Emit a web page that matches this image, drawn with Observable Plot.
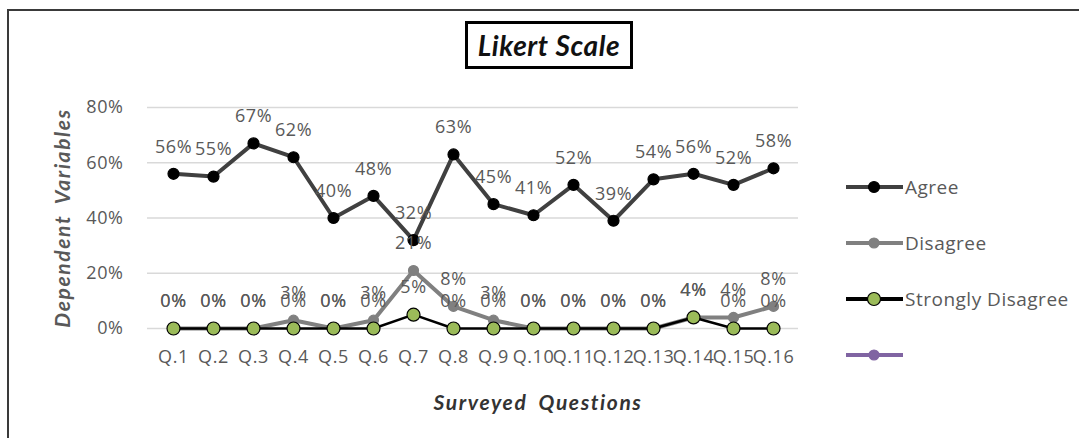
<!DOCTYPE html>
<html>
<head>
<meta charset="utf-8">
<script src="https://cdn.jsdelivr.net/npm/d3@7"></script>
<script src="https://cdn.jsdelivr.net/npm/@observablehq/plot@0.6"></script>
<style>
  html, body { margin: 0; padding: 0; background: #fff; overflow: hidden; }
  #wrap { position: relative; width: 1079px; height: 438px; font-family: "Open Sans", Lato, sans-serif; }
  #border { position: absolute; left: 7px; top: 9px; width: 1200px; height: 600px;
            border-left: 2px solid #3a3a3a; border-top: 2px solid #3a3a3a; box-sizing: border-box; }
  #title { position: absolute; left: 465px; top: 21px; width: 168px; height: 48px; box-sizing: border-box;
           border: 3px solid #000; display: flex; align-items: center; justify-content: center;
           font-family: Lato, sans-serif; font-weight: bold; font-style: italic; font-size: 28px;
           letter-spacing: 0.6px; color: #111; }
  #legend { position: absolute; left: 845px; top: 0; }
  .lg { position: absolute; left: 0; display: flex; align-items: center; white-space: nowrap;
        font-size: 19px; letter-spacing: 0.5px; color: #595959; }
  #chart { position: absolute; left: 0; top: 0; }
  #chart svg text { letter-spacing: 0.6px; }
</style>
</head>
<body>
<div id="wrap">
  <div id="chart"></div>
  <div id="border"></div>
  <div id="title">Likert Scale</div>
  <div id="legend"></div>
</div>
<script>
const questions = ["Q.1","Q.2","Q.3","Q.4","Q.5","Q.6","Q.7","Q.8","Q.9","Q.10","Q.11","Q.12","Q.13","Q.14","Q.15","Q.16"];
const agree = [0.56,0.55,0.67,0.62,0.40,0.48,0.32,0.63,0.45,0.41,0.52,0.39,0.54,0.56,0.52,0.58];
const disagree = [0,0,0,0.03,0,0.03,0.21,0.08,0.03,0,0,0,0,0.04,0.04,0.08];
const stronglyDisagree = [0,0,0,0,0,0,0.05,0,0,0,0,0,0,0.04,0,0];
const seriesNames = ["Agree","Disagree","Strongly Disagree",""];
const yTicks = [0,0.2,0.4,0.6,0.8];

const seriesStyle = {
  "Agree": {line: "#404040", lw: 4, fill: "#000000", stroke: "#000000", r: 5.5},
  "Disagree": {line: "#808080", lw: 4, fill: "#808080", stroke: "#808080", r: 5},
  "Strongly Disagree": {line: "#000000", lw: 2.5, fill: "#9bbb59", stroke: "#000000", r: 6.5},
  "": {line: "#8064a2", lw: 4, fill: "#8064a2", stroke: "#8064a2", r: 5}
};

const valuesBySeries = [agree, disagree, stronglyDisagree];
const rows = [];
valuesBySeries.forEach((vals, si) => {
  vals.forEach((v, i) => rows.push({series: seriesNames[si], q: questions[i], value: v}));
});
const pct = d3.format(".0%");

const marks = [
  Plot.gridY(yTicks, {stroke: "#d9d9d9", strokeOpacity: 1, strokeWidth: 1.3}),
  Plot.axisY(yTicks, {tickSize: 0, tickPadding: 24, tickFormat: pct, label: null, fill: "#595959", fontSize: 18}),
  Plot.axisX({tickSize: 0, tickPadding: 22, label: null, fill: "#595959", fontSize: 18}),
];
["Agree","Disagree","Strongly Disagree"].forEach(s => {
  const st = seriesStyle[s];
  const data = rows.filter(d => d.series === s);
  marks.push(Plot.line(data, {x: "q", y: "value", stroke: st.line, strokeWidth: st.lw, strokeLinejoin: "round"}));
  marks.push(Plot.dot(data, {x: "q", y: "value", r: st.r, fill: st.fill, stroke: st.stroke, strokeWidth: 1.2}));
});
marks.push(Plot.text(rows, {x: "q", y: "value", text: d => pct(d.value), dy: -27, fill: "#595959", fontSize: 18}));
marks.push(Plot.text(["Dependent Variables"], {frameAnchor: "left", textAnchor: "middle", rotate: -90, dx: -84, fontSize: 21,
  fontWeight: "bold", fontStyle: "italic", fill: "#595959", fontFamily: "Lato, sans-serif"}));
marks.push(Plot.text(["Surveyed Questions"], {frameAnchor: "bottom", dx: 65, dy: 81, fontSize: 21,
  fontWeight: "bold", fontStyle: "italic", fill: "#333333", fontFamily: "Lato, sans-serif"}));

const chart = Plot.plot({
  width: 1079, height: 438,
  marginLeft: 147, marginRight: 281, marginTop: 107, marginBottom: 110,
  x: {type: "point", domain: questions, padding: 0.5},
  y: {domain: [0, 0.8]},
  style: {fontFamily: "'Open Sans', Lato, sans-serif", fontSize: "18px", color: "#595959", background: "transparent"},
  marks
});
document.getElementById("chart").appendChild(chart);
d3.select(chart).selectAll("text")
  .filter(function() { return this.textContent === "Dependent Variables" || this.textContent === "Surveyed Questions"; })
  .style("letter-spacing", "1.6px").style("word-spacing", "5px");

// Legend
const legend = d3.select("#legend");
const legendTops = [187, 243, 299, 355];
seriesNames.forEach((s, i) => {
  const st = seriesStyle[s];
  const row = legend.append("div").attr("class", "lg").style("top", (legendTops[i] - 12) + "px").style("height", "24px");
  const svg = row.append("svg").attr("width", 60).attr("height", 24);
  svg.append("line").attr("x1", 1).attr("x2", 58).attr("y1", 12).attr("y2", 12)
     .attr("stroke", st.line).attr("stroke-width", 4);
  svg.append("circle").attr("cx", 29).attr("cy", 12).attr("r", st.r)
     .attr("fill", st.fill).attr("stroke", st.stroke).attr("stroke-width", 1.2);
  row.append("span").text(s);
});
</script>
</body>
</html>
